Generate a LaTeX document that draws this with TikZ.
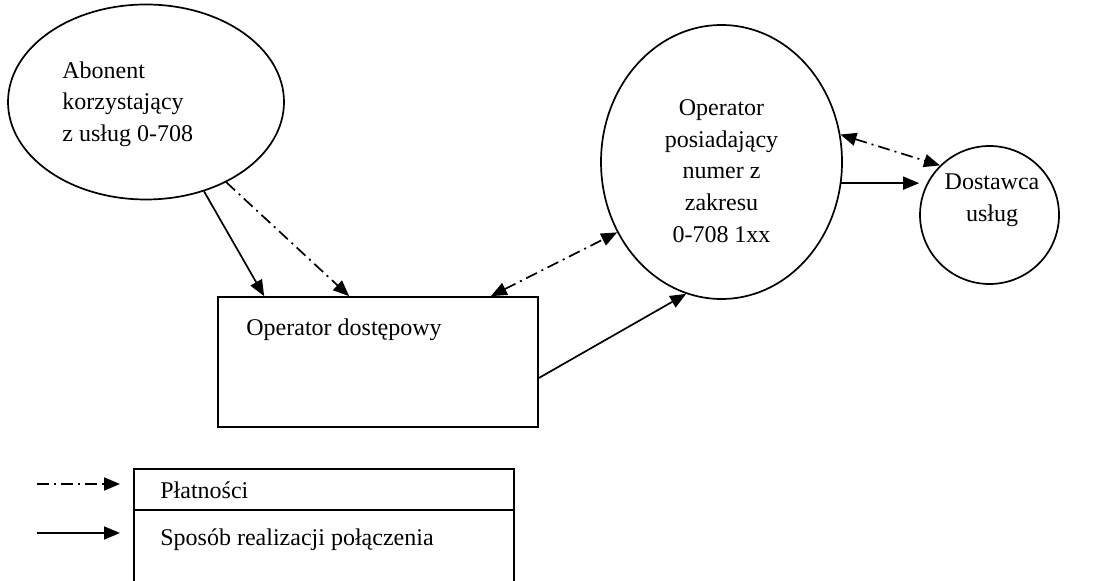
\documentclass[tikz,border=0pt]{standalone}
\usepackage{fontspec}
\setmainfont{Liberation Serif}
\usetikzlibrary{arrows.meta,shapes.geometric}
\begin{document}
\begin{tikzpicture}[x=0.5pt,y=-0.5pt,
  every node/.style={font=\fontsize{12}{15.8}\selectfont},
  shp/.style={draw, line width=0.85pt, inner sep=0pt},
  txt/.style={inner sep=0pt},
  tip/.tip={Triangle[length=8pt,width=6.5pt]},
  con/.style={line width=0.85pt, -tip},
  pay/.style={con, dash pattern=on 6pt off 2.5pt on 1pt off 2.5pt},
  paytwo/.style={pay, tip-tip},
]
\useasboundingbox (0,0) rectangle (1106,581);

% shapes
\node[shp, ellipse, minimum width=138pt, minimum height=97.5pt] (A) at (146,102) {};
\node[txt, align=left, anchor=west] (At) at (62,104) {Abonent\\korzystający\\z usług 0-708};

\node[shp, rectangle, minimum width=160pt, minimum height=65pt] (R) at (378,362) {};
\node[txt, anchor=west] (Rt) at (246,330) {Operator dostępowy};

\node[shp, ellipse, minimum width=120.5pt, minimum height=137pt] (C) at (721.5,162) {};
\node[txt, align=center] (Ct) at (721.5,171) {Operator\\posiadający\\numer z\\zakresu\\0-708 1xx};

\node[shp, ellipse, minimum width=69.5pt, minimum height=69pt] (D) at (989.5,215) {};
\node[txt, align=center] (Dt) at (992,200) {Dostawca\\usług};

% connectors
\draw[con] (A.-57) -- ([xshift=23.5pt]R.north west);
\draw[pay] (A.-45) -- ([xshift=66pt]R.north west);
\draw[paytwo] ([xshift=-24pt]R.north east) -- (C.214);
\draw[con] ([yshift=-8pt]R.east) -- (C.255);
\draw[paytwo] (C.13) -- (D.135);
\draw[con] (C.-10) -- (C.-10 -| D.west);

% legend
\node[draw, line width=0.85pt, minimum width=190pt, minimum height=20.5pt, anchor=north west, inner sep=0pt] (L1) at (133,468) {};
\node[draw, line width=0.85pt, minimum width=190pt, minimum height=40pt, anchor=north west, inner sep=0pt] (L2) at (133,509) {};
\node[txt, anchor=west] (L1t) at (160,490) {Płatności};
\node[txt, anchor=west] (L2t) at (160,540) {Sposób realizacji połączenia};
\coordinate (l1s) at (37,484);
\coordinate (l1e) at (120,484);
\coordinate (l2s) at (37,533);
\coordinate (l2e) at (120,533);
\draw[pay] (l1s) -- (l1e);
\draw[con] (l2s) -- (l2e);
\end{tikzpicture}
\end{document}
